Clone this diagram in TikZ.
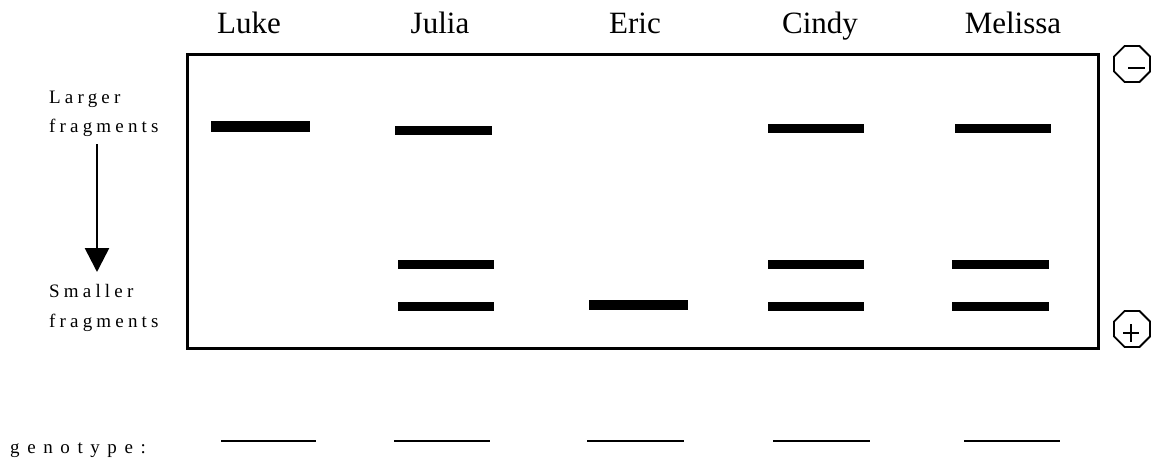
\documentclass[tikz,border=0pt]{standalone}
\usepackage{fontspec}
\setmainfont{Liberation Serif}
\usetikzlibrary{shapes.geometric,arrows.meta}
\tikzset{
  lane/.style={font=\fontsize{31}{36}\selectfont, anchor=base, inner sep=0pt},
  side/.style={font=\fontsize{19}{22}\selectfont\addfontfeatures{LetterSpace=22}, anchor=base west, inner sep=0pt},
  band/.style={line width=9pt},
  gline/.style={line width=2.5pt},
  pole/.style={draw, regular polygon, regular polygon sides=8, minimum size=39pt, line width=1.8pt, inner sep=0pt},
}
\begin{document}
\begin{tikzpicture}[x=1pt,y=-1pt]
\useasboundingbox (0,0) rectangle (1151,461);
% lane names
\node[lane] (luke) at (249,33) {Luke};
\node[lane] (julia) at (440,33) {Julia};
\node[lane] (eric) at (635,33) {Eric};
\node[lane] (cindy) at (820,33) {Cindy};
\node[lane] (melissa) at (1013,33) {Melissa};
% gel
\draw[line width=3pt] (187,54) rectangle (1098,348);
% bands
\draw[line width=11pt] (211,126.5) -- (310,126.5);
\draw[band] (395,130) -- (492,130);
\draw[band] (398,264) -- (494,264);
\draw[band] (398,306) -- (494,306);
\draw[line width=10pt] (589,305) -- (688,305);
\draw[band] (768,128) -- (864,128);
\draw[band] (768,264) -- (864,264);
\draw[band] (768,306) -- (864,306);
\draw[band] (955,128) -- (1051,128);
\draw[band] (952,264) -- (1049,264);
\draw[band] (952,306) -- (1049,306);
% side labels
\node[side] (larger) at (49,103) {Larger};
\node[side] (fragA) at (49,132) {fragments};
\node[side] (smaller) at (49,297) {Smaller};
\node[side] (fragB) at (49,327) {fragments};
\coordinate (arrA) at (97,144);
\coordinate (arrB) at (97,272);
\draw[line width=2.6pt, -{Triangle[length=24pt,width=24pt]}] (arrA) -- (arrB);
% poles
\node[pole] (neg) at (1132,64) {};
\draw[line width=1.8pt] ([xshift=-4pt,yshift=-4pt]neg.center) -- ([xshift=13pt,yshift=-4pt]neg.center);
\node[pole] (pos) at (1132,329) {};
\draw[line width=1.6pt] ([xshift=-9pt,yshift=-4pt]pos.center) -- ([xshift=7pt,yshift=-4pt]pos.center);
\draw[line width=1.6pt] ([xshift=-1pt,yshift=5pt]pos.center) -- ([xshift=-1pt,yshift=-13pt]pos.center);
% genotype
\node[side, font=\fontsize{19}{22}\selectfont\addfontfeatures{LetterSpace=40}] (geno) at (10,453) {genotype:};
\draw[gline] (221,441) -- (316,441);
\draw[gline] (394,441) -- (490,441);
\draw[gline] (587,441) -- (684,441);
\draw[gline] (773,441) -- (870,441);
\draw[gline] (964,441) -- (1060,441);
\end{tikzpicture}
\end{document}
